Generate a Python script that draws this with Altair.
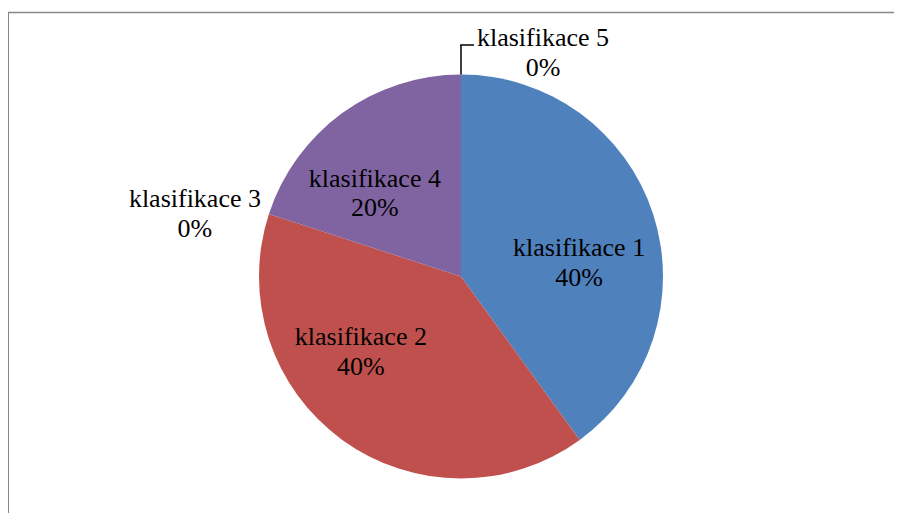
import altair as alt
import pandas as pd

categories = ["klasifikace 1", "klasifikace 2", "klasifikace 3", "klasifikace 4", "klasifikace 5"]
values = [40, 40, 0, 20, 0]
colors = ["#4F81BD", "#C0504D", "#9BBB59", "#8064A2", "#4BACC6"]

df = pd.DataFrame({"cat": categories, "value": values, "order": list(range(len(categories)))})
df["label"] = df["cat"] + "\n" + df["value"].astype(str) + "%"

W, H = 886, 505
CX, CY, R = 453, 268.5, 202
LABEL_R = 121
# per-label nudges (px) from the slice mid-angle anchor, mimicking Excel "best fit"
offsets = {
    "klasifikace 1": (3, 17),
    "klasifikace 2": (-29, -29),
    "klasifikace 3": (-151, -32),
    "klasifikace 4": (-15, 8),
    "klasifikace 5": (82, -109.5),
}

base = alt.Chart(df)

pie = base.mark_arc(outerRadius=R).encode(
    theta=alt.Theta("value:Q", stack=True),
    order=alt.Order("order:Q"),
    color=alt.Color("cat:N", scale=alt.Scale(domain=categories, range=colors), legend=None),
    x=alt.value(CX),
    y=alt.value(CY),
)

anchored = base.transform_window(
    cum="sum(value)", sort=[alt.SortField("order")], frame=[None, 0]
).transform_joinaggregate(
    total="sum(value)"
).transform_calculate(
    mid=f"2*PI*(datum.cum - datum.value/2)/datum.total"
).transform_calculate(
    px=f"{CX} + {LABEL_R}*sin(datum.mid)",
    py=f"{CY} - {LABEL_R}*cos(datum.mid)",
)

label_layers = []
for c in categories:
    dx, dy = offsets[c]
    label_layers.append(
        anchored.transform_filter(alt.datum.cat == c).mark_text(
            align="center", baseline="alphabetic", lineBreak="\n",
            font="Liberation Serif", fontSize=26, lineHeight=29.5, color="#000000",
            dx=dx, dy=dy,
        ).encode(
            text="label:N",
            x=alt.X("px:Q", scale=None),
            y=alt.Y("py:Q", scale=None),
        )
    )

one = alt.Chart(pd.DataFrame({"a": [0]}))
border_top = one.mark_rule(color="#868686", strokeWidth=1.5).encode(
    x=alt.value(-1), x2=alt.value(W), y=alt.value(4.5))
border_left = one.mark_rule(color="#868686", strokeWidth=2).encode(
    x=alt.value(0), y=alt.value(4.5), y2=alt.value(H))
leader_v = one.mark_rule(color="#000000", strokeWidth=1.5).encode(
    x=alt.value(CX), y=alt.value(37), y2=alt.value(CY - R))
leader_h = one.mark_rule(color="#000000", strokeWidth=1.5).encode(
    x=alt.value(CX - 0.75), x2=alt.value(CX + 13), y=alt.value(37))

chart = alt.layer(pie, *label_layers, border_top, border_left, leader_v, leader_h).properties(
    width=W, height=H, padding=0, autosize=alt.AutoSizeParams(type="none"), background="white"
).configure_view(stroke=None)

chart.save("out.html", embed_options={"renderer": "svg", "actions": False})
